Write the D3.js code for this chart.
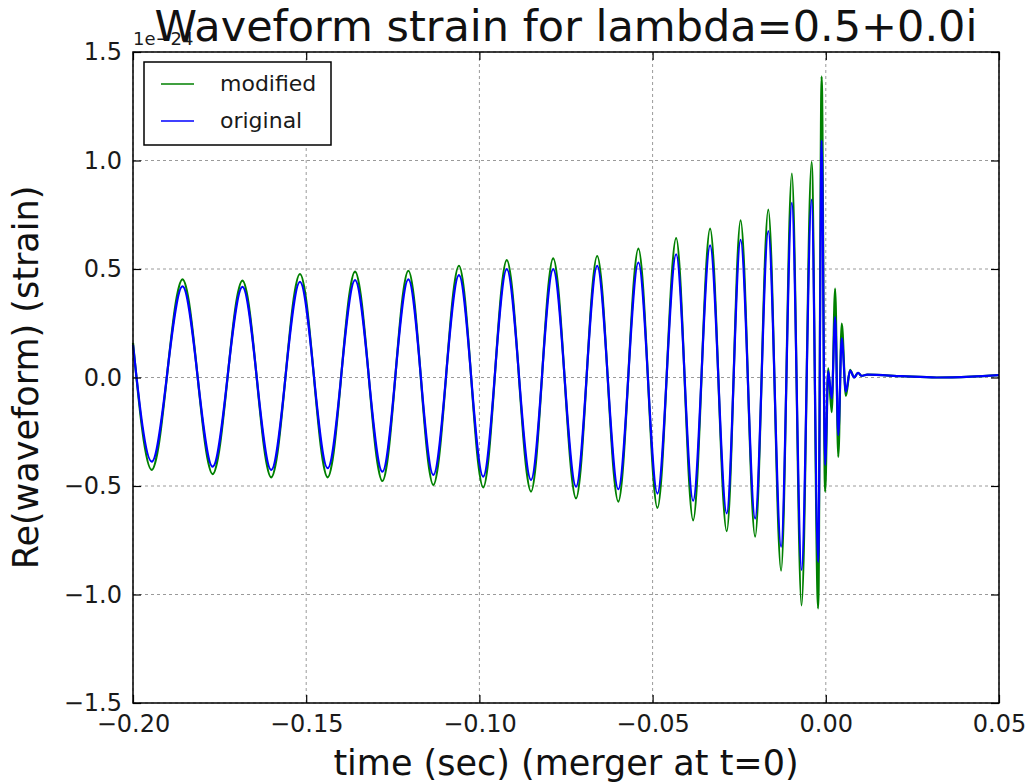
<!DOCTYPE html>
<html>
<head>
<meta charset="utf-8">
<script src="https://cdn.jsdelivr.net/npm/d3@7"></script>
<style>
  html, body { margin: 0; padding: 0; background: #fff; }
  svg { display: block; font-family: "DejaVu Sans", sans-serif; }
</style>
</head>
<body>
<svg id="chart" width="1031" height="783"></svg>
<script>
// Sample times (s, merger at t = 0) and strain values (units of 1e-24)
const times = [
  -0.2000, -0.1946, -0.1857, -0.1770, -0.1684, -0.1601, -0.1518, -0.1438,
  -0.1359, -0.1280, -0.1205, -0.1133, -0.1059, -0.0989, -0.0921, -0.0851,
  -0.0787, -0.0721, -0.0660, -0.0599, -0.0541, -0.0486, -0.0432, -0.0383,
  -0.0334, -0.0286, -0.0246, -0.0204, -0.0166, -0.0129, -0.0098, -0.0070,
  -0.0041, -0.0022, -0.0012, -0.0002, 0.0007, 0.0017, 0.0027, 0.0036,
  0.0046, 0.0058, 0.0070, 0.0082, 0.0093, 0.0103, 0.0120, 0.0220,
  0.0320, 0.0420, 0.0500
];
const original = [
  0.150, -0.388, 0.420, -0.411, 0.418, -0.426, 0.441, -0.418,
  0.449, -0.434, 0.452, -0.449, 0.472, -0.457, 0.499, -0.472,
  0.499, -0.503, 0.514, -0.515, 0.530, -0.535, 0.568, -0.568,
  0.609, -0.626, 0.634, -0.650, 0.675, -0.780, 0.805, -0.887,
  0.820, -0.850, 1.092, -0.403, 0.030, -0.096, 0.278, -0.265,
  0.180, -0.065, 0.032, 0.000, 0.022, 0.008, 0.013, 0.006,
  0.000, 0.004, 0.011
];
const modified = [
  0.160, -0.426, 0.452, -0.445, 0.446, -0.460, 0.477, -0.460,
  0.488, -0.477, 0.492, -0.495, 0.515, -0.506, 0.541, -0.526,
  0.549, -0.557, 0.560, -0.572, 0.594, -0.601, 0.642, -0.658,
  0.686, -0.708, 0.724, -0.733, 0.774, -0.890, 0.940, -1.050,
  0.993, -1.064, 1.387, -0.526, 0.042, -0.160, 0.410, -0.366,
  0.248, -0.085, 0.035, 0.000, 0.022, 0.008, 0.013, 0.006,
  0.000, 0.004, 0.011
];
const xTicks = [-0.20, -0.15, -0.10, -0.05, 0.00, 0.05];
const yTicks = [-1.5, -1.0, -0.5, 0.0, 0.5, 1.0, 1.5];
const seriesNames = ["modified", "original"];
const seriesColors = ["#008000", "#0000ff"];

const svg = d3.select("#chart");
const plotL = 133, plotR = 999, plotT = 52, plotB = 703;

const x = d3.scaleLinear().domain([-0.20, 0.05]).range([plotL, plotR]);
const y = d3.scaleLinear().domain([-1.5, 1.5]).range([plotB, plotT]);

// Dotted grid
const grid = svg.append("g").attr("stroke", "#9a9a9a").attr("stroke-width", 1)
  .attr("stroke-dasharray", "3,3");
grid.selectAll("line.v").data(xTicks).join("line")
  .attr("x1", d => x(d)).attr("x2", d => x(d))
  .attr("y1", plotT).attr("y2", plotB);
grid.selectAll("line.h").data(yTicks).join("line")
  .attr("x1", plotL).attr("x2", plotR)
  .attr("y1", d => y(d)).attr("y2", d => y(d));

// Waveforms
const plot = svg.append("g");
const line = vals => d3.line()
  .x((d, i) => x(times[i]))
  .y(d => y(d))
  .curve(d3.curveMonotoneX)(vals);
[modified, original].forEach((vals, k) => {
  plot.append("path")
    .attr("d", line(vals))
    .attr("fill", "none")
    .attr("stroke", seriesColors[k])
    .attr("stroke-width", 2.2)
    .attr("stroke-linejoin", "round");
});

// Axes with inward ticks on all four sides
const tickLen = 8;
const fmtX = d3.format(".2f"), fmtY = d3.format(".1f");
const styleAxis = g => {
  g.select(".domain").remove();
  g.selectAll(".tick line").attr("stroke", "#000").attr("stroke-width", 1.2);
  g.selectAll(".tick text").attr("fill", "#1a1a1a")
    .style("font-family", "DejaVu Sans").style("font-size", "24px");
};
svg.append("g").attr("transform", `translate(0,${plotB})`)
  .call(d3.axisBottom(x).tickValues(xTicks).tickFormat(fmtX)
    .tickSizeInner(-tickLen).tickSizeOuter(0).tickPadding(12))
  .call(styleAxis);
svg.append("g").attr("transform", `translate(0,${plotT})`)
  .call(d3.axisTop(x).tickValues(xTicks).tickFormat("")
    .tickSizeInner(-tickLen).tickSizeOuter(0))
  .call(styleAxis);
svg.append("g").attr("transform", `translate(${plotL},0)`)
  .call(d3.axisLeft(y).tickValues(yTicks).tickFormat(fmtY)
    .tickSizeInner(-tickLen).tickSizeOuter(0).tickPadding(11))
  .call(styleAxis);
svg.append("g").attr("transform", `translate(${plotR},0)`)
  .call(d3.axisRight(y).tickValues(yTicks).tickFormat("")
    .tickSizeInner(-tickLen).tickSizeOuter(0))
  .call(styleAxis);

// Frame
svg.append("rect")
  .attr("x", plotL).attr("y", plotT)
  .attr("width", plotR - plotL).attr("height", plotB - plotT)
  .attr("fill", "none").attr("stroke", "#000").attr("stroke-width", 1.5);

// Offset exponent
svg.append("text").attr("x", plotL).attr("y", 45)
  .attr("font-size", 18).attr("fill", "#1a1a1a").text("1e\u221224");

// Title
svg.append("text").attr("x", (plotL + plotR) / 2).attr("y", 41)
  .attr("text-anchor", "middle").attr("font-size", 43).attr("fill", "#111")
  .text("Waveform strain for lambda=0.5+0.0i");

// Axis labels
svg.append("text").attr("x", (plotL + plotR) / 2).attr("y", 775)
  .attr("text-anchor", "middle").attr("font-size", 35).attr("fill", "#111")
  .text("time (sec) (merger at t=0)");
svg.append("text")
  .attr("transform", `translate(38,${(plotT + plotB) / 2}) rotate(-90)`)
  .attr("text-anchor", "middle").attr("font-size", 35).attr("fill", "#111")
  .text("Re(waveform) (strain)");

// Legend
const legend = svg.append("g");
legend.append("rect").attr("x", 144).attr("y", 62).attr("width", 187).attr("height", 83)
  .attr("fill", "#fff").attr("stroke", "#000").attr("stroke-width", 1.5);
seriesNames.forEach((name, i) => {
  const ly = 84 + i * 37;
  legend.append("line").attr("x1", 161).attr("x2", 194).attr("y1", ly).attr("y2", ly)
    .attr("stroke", seriesColors[i]).attr("stroke-width", 1.5);
  legend.append("text").attr("x", 220).attr("y", ly + 7)
    .attr("font-size", 22).attr("fill", "#1a1a1a").text(name);
});
</script>
</body>
</html>
